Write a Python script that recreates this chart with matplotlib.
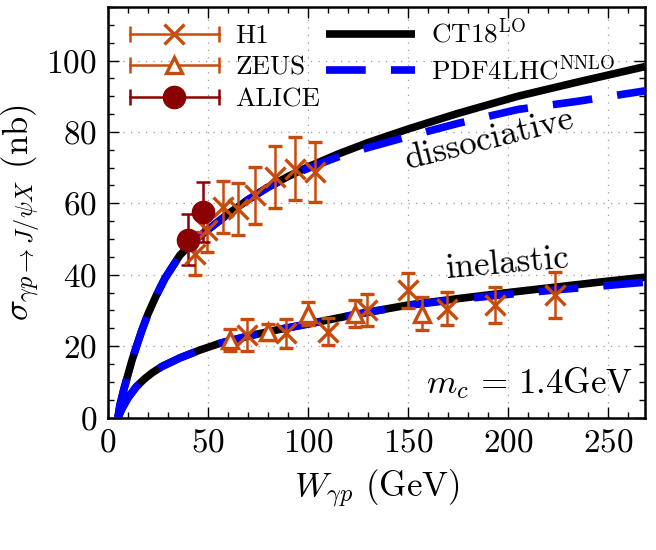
import matplotlib
matplotlib.use('Agg')
import matplotlib.pyplot as plt
from matplotlib.lines import Line2D
from matplotlib.legend_handler import HandlerBase
from matplotlib.ticker import MultipleLocator

plt.rcParams['font.family'] = 'serif'
plt.rcParams['font.serif'] = ['cmr10', 'DejaVu Serif']
plt.rcParams['mathtext.fontset'] = 'cm'
plt.rcParams['axes.formatter.use_mathtext'] = True
plt.rcParams['axes.unicode_minus'] = False

# ---------------------------------------------------------------------
# donnees
# ---------------------------------------------------------------------

# courbes dissociatives
w_diss_ct18 = [5, 6, 8, 10, 12, 14, 17, 20, 24, 28.5, 36, 44, 52, 60, 70, 80,
               90, 100, 115, 130, 150, 175, 205, 235, 268.5]
s_diss_ct18 = [0, 3.5, 8, 12, 16, 19.5, 24.5, 29, 34, 39, 45.5, 50, 53.5, 57,
               61, 64.5, 67.5, 70.2, 73.8, 77, 80.8, 85.2, 90, 94, 98.3]
w_diss_pdf4 = [5, 6, 8, 10, 12, 14, 17, 20, 24, 28.5, 36, 44, 52, 60, 70, 80,
               90, 100, 115, 130, 150, 175, 205, 235, 268.5]
s_diss_pdf4 = [0, 3.5, 8, 12, 16, 19.5, 24.5, 29, 34, 39, 45.5, 50, 53.5, 57,
               61, 64.5, 67.3, 69.8, 73, 75.6, 78.7, 82.4, 86.3, 88.6, 91.5]

# courbes inelastiques
w_inel_ct18 = [5, 7, 10, 14, 18, 22, 27, 36, 46, 56, 70, 85, 100, 125, 150,
               175, 200, 225, 250, 268.5]
s_inel_ct18 = [0, 2.5, 5.5, 8.5, 10.7, 12.5, 14.3, 16.7, 18.9, 20.8, 22.8,
               24.6, 26.2, 29, 31.5, 33.3, 35, 36.6, 38.2, 39.3]
w_inel_pdf4 = [5, 7, 10, 14, 18, 22, 27, 36, 46, 56, 70, 85, 100, 125, 150,
               175, 200, 225, 250, 268.5]
s_inel_pdf4 = [0, 2.5, 5.5, 8.5, 10.7, 12.5, 14.3, 16.7, 18.9, 20.8, 22.8,
               24.6, 26.2, 29, 31.4, 33.1, 34.5, 35.8, 37, 37.9]

# H1 dissociatif
w_h1_diss = [43.5, 49.4, 57.7, 65.2, 73.5, 83.5, 93.5, 103.5]
s_h1_diss = [45.9, 52.4, 59.0, 58.5, 62.2, 67.4, 69.7, 68.8]
e_h1_diss = [6.0, 6.0, 7.3, 7.3, 8.0, 8.6, 8.9, 8.5]

# ALICE dissociatif
w_alice = [40.2, 47.7]
s_alice = [49.8, 57.6]
e_alice = [7.2, 8.4]

# H1 inelastique
w_h1_inel = [69.3, 89.0, 110.2, 129.3, 150.2, 169.3, 193.5, 223.5]
s_h1_inel = [23.1, 23.6, 24.0, 30.1, 35.7, 30.5, 31.5, 34.3]
e_h1_inel = [4.4, 4.0, 3.8, 4.4, 4.9, 4.7, 5.1, 6.5]

# ZEUS inelastique
w_zeus = [61.0, 80.2, 100.2, 123.5, 156.8]
s_zeus = [21.7, 24.0, 29.1, 29.1, 29.1]
e_zeus = [3.0, 2.2, 3.3, 3.8, 4.7]

x_ticks = [0, 50, 100, 150, 200, 250]
y_ticks = [0, 20, 40, 60, 80, 100]

ORANGE = '#c84b0c'
ROUGE = '#8b0000'
BLEU = '#0000ff'


class HandlerBarre(HandlerBase):
    """Poignee de legende facon gnuplot : trait horizontal, deux caps, marqueur au centre."""

    def create_artists(self, legend, orig, xdescent, ydescent, width, height, fontsize, trans):
        y = height / 2 - ydescent
        x0, x1 = -xdescent, -xdescent + width
        c = orig.get_color()
        barre = Line2D([x0, x1], [y, y], color=c, lw=1.8)
        caps = Line2D([x0, x1], [y, y], ls='none', marker='|', ms=11, mew=1.8, color=c)
        mk = Line2D([(x0 + x1) / 2], [y], ls='none', marker=orig.get_marker(),
                    ms=orig.get_markersize(), mew=orig.get_markeredgewidth(),
                    mfc=orig.get_markerfacecolor(), mec=c)
        for a in (barre, caps, mk):
            a.set_transform(trans)
        return [barre, caps, mk]


fig = plt.figure(figsize=(6.56, 5.5), dpi=100)
ax = fig.add_axes([0.1646, 0.2409, 0.8186, 0.7464])

# courbes theoriques
l_ct18, = ax.plot(w_diss_ct18, s_diss_ct18, color='black', lw=5.5, solid_capstyle='butt', zorder=2)
ax.plot(w_inel_ct18, s_inel_ct18, color='black', lw=5.5, solid_capstyle='butt', zorder=2)
l_pdf4, = ax.plot(w_diss_pdf4, s_diss_pdf4, color=BLEU, lw=5.5, dashes=(5.2, 3.3),
                  dash_capstyle='butt', zorder=3)
ax.plot(w_inel_pdf4, s_inel_pdf4, color=BLEU, lw=5.5, dashes=(5.2, 3.3),
        dash_capstyle='butt', zorder=3)

# donnees
kw = dict(elinewidth=1.8, capsize=5, capthick=1.8, ls='none', zorder=5)
ax.errorbar(w_h1_diss, s_h1_diss, yerr=e_h1_diss, marker='x', ms=14, mew=2.4, color=ORANGE, **kw)
ax.errorbar(w_h1_inel, s_h1_inel, yerr=e_h1_inel, marker='x', ms=14, mew=2.4, color=ORANGE, **kw)
ax.errorbar(w_zeus, s_zeus, yerr=e_zeus, marker='^', ms=12, mew=2.4, mfc='white',
            color=ORANGE, **kw)
ax.errorbar(w_alice, s_alice, yerr=e_alice, marker='o', ms=16, color=ROUGE, **kw)

# proxys de legende
p_h1 = Line2D([], [], color=ORANGE, marker='x', ms=14, mew=2.4)
p_zeus = Line2D([], [], color=ORANGE, marker='^', ms=12, mew=2.4, mfc='white')
p_alice = Line2D([], [], color=ROUGE, marker='o', ms=16, mew=1, mfc=ROUGE)
hb = HandlerBarre()
ax.legend([p_h1, p_zeus, p_alice, l_ct18, l_pdf4],
          ['H1', 'ZEUS', 'ALICE', r'CT18$^{\mathrm{LO}}$', r'PDF4LHC$^{\mathrm{NNLO}}$'],
          ncol=2, loc='upper left', bbox_to_anchor=(0.01, 1.01), frameon=False,
          fontsize=19.5, handlelength=3.3, handletextpad=0.6, columnspacing=0.2,
          labelspacing=0.28, borderaxespad=0.2,
          handler_map={p_h1: hb, p_zeus: hb, p_alice: hb})

# annotations
ax.text(191, 77.8, 'dissociative', fontsize=25, rotation=14, ha='center', va='center')
ax.text(200, 43.0, 'inelastic', fontsize=25, rotation=5, ha='center', va='center')
ax.text(262.5, 9.6, r'$m_c \,=\, 1.4\mathrm{GeV}$', fontsize=25, ha='right', va='center')

ax.set_xlim(0, 268.5)
ax.set_ylim(0, 115)
ax.set_xticks(x_ticks)
ax.set_yticks(y_ticks)
ax.xaxis.set_minor_locator(MultipleLocator(10))
ax.yaxis.set_minor_locator(MultipleLocator(5))
ax.tick_params(which='both', direction='in', top=True, right=True, labelsize=24, width=1.0)
ax.tick_params(which='major', length=8, pad=8)
ax.tick_params(which='minor', length=4)
ax.grid(True, which='major', color='#999999', lw=0.9, linestyle=(0, (1, 5)))
for sp in ax.spines.values():
    sp.set_linewidth(1.8)

ax.set_xlabel(r'$W_{\gamma p}$ (GeV)', fontsize=25, labelpad=7)
ax.set_ylabel(r'$\sigma_{\gamma p \to J/\psi X}$ (nb)', fontsize=25, labelpad=2)

fig.savefig('out.png', dpi=100)
